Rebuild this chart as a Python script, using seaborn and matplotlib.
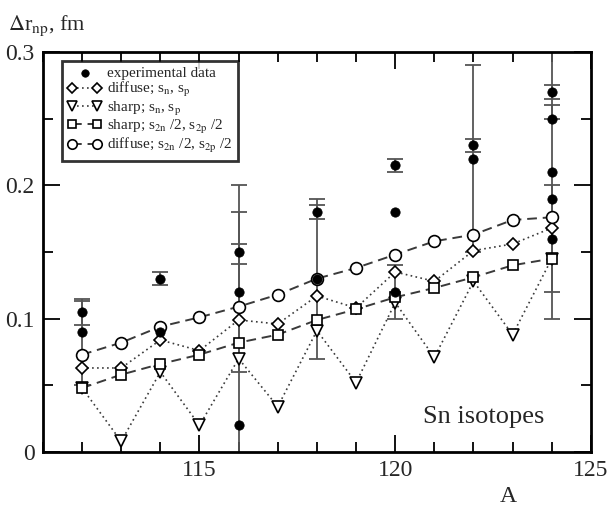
import numpy as np
import pandas as pd
import matplotlib
matplotlib.use('Agg')
import matplotlib.pyplot as plt
import seaborn as sns
from matplotlib.ticker import MultipleLocator

# mass numbers of the Sn isotopes
A = [112, 113, 114, 115, 116, 117, 118, 119, 120, 121, 122, 123, 124]

# model curves
diffuse_snsp = [0.063, 0.063, 0.084, 0.076, 0.099, 0.096, 0.117, 0.108, 0.135, 0.128, 0.151, 0.156, 0.168]
sharp_snsp = [0.048, 0.008, 0.060, 0.020, 0.070, 0.034, 0.091, 0.052, 0.112, 0.071, 0.128, 0.088, 0.145]
sharp_s2n = [0.048, 0.058, 0.066, 0.073, 0.082, 0.088, 0.099, 0.107, 0.116, 0.123, 0.131, 0.140, 0.145]
diffuse_s2n = [0.073, 0.082, 0.094, 0.101, 0.109, 0.118, 0.130, 0.138, 0.148, 0.158, 0.163, 0.174, 0.176]

# experimental data (value, lower error, upper error)
exp_A = [112, 112, 114, 114, 116, 116, 116, 118, 118, 120, 120, 120, 122, 122, 124, 124, 124, 124, 124]
exp_val = [0.105, 0.090, 0.130, 0.090, 0.150, 0.120, 0.020, 0.180, 0.130, 0.215, 0.180, 0.120,
           0.230, 0.220, 0.270, 0.250, 0.210, 0.190, 0.160]
exp_lo = [0.010, 0.040, 0.005, 0.0, 0.009, 0.060, 0.180, 0.005, 0.060, 0.005, 0.0, 0.020,
          0.005, 0.070, 0.005, 0.0, 0.110, 0.0, 0.040]
exp_hi = [0.010, 0.023, 0.005, 0.0, 0.006, 0.060, 0.180, 0.005, 0.060, 0.005, 0.0, 0.020,
          0.005, 0.070, 0.005, 0.010, 0.110, 0.0, 0.040]

sns.set_theme(style='ticks')
plt.rcParams['font.family'] = ['Liberation Serif', 'DejaVu Serif']
plt.rcParams['mathtext.fontset'] = 'stix'

fig = plt.figure(figsize=(6.13, 5.09), dpi=100)
ax = fig.add_axes([0.070, 0.112, 0.894, 0.786])

df_exp = pd.DataFrame({'A': exp_A, 'val': exp_val, 'lo': exp_lo, 'hi': exp_hi})
has_err = (df_exp['lo'] > 0) | (df_exp['hi'] > 0)
e = df_exp[has_err]
ax.errorbar(e['A'], e['val'], yerr=[e['lo'], e['hi']], fmt='none', ecolor='#555555',
            elinewidth=1.3, capsize=6, capthick=1.3, zorder=1)

line_col = '#3a3a3a'
mk = dict(markerfacecolor='white', markeredgecolor='black', markeredgewidth=1.2)
sns.lineplot(x=A, y=diffuse_snsp, ax=ax, color=line_col, linestyle=(0, (1, 2)), lw=1.2,
             marker='D', markersize=6.5, label='diffuse; s$_{\\rm n}$, s$_{\\rm p}$', zorder=3, **mk)
sns.lineplot(x=A, y=sharp_snsp, ax=ax, color=line_col, linestyle=(0, (1, 2)), lw=1.2,
             marker='v', markersize=8.5, label='sharp; s$_{\\rm n}$, s$_{\\rm p}$', zorder=3, **mk)
sns.lineplot(x=A, y=sharp_s2n, ax=ax, color=line_col, linestyle=(0, (5, 3)), lw=1.4,
             marker='s', markersize=7, label='sharp; s$_{\\rm 2n}$ /2, s$_{\\rm 2p}$ /2', zorder=3, **mk)
sns.lineplot(x=A, y=diffuse_s2n, ax=ax, color=line_col, linestyle=(0, (5, 3)), lw=1.4,
             marker='o', markersize=8.5, label='diffuse; s$_{\\rm 2n}$ /2, s$_{\\rm 2p}$ /2', zorder=3, **mk)
sns.scatterplot(data=df_exp, x='A', y='val', ax=ax, color='black', s=45, edgecolor='black',
                label='experimental data', zorder=4)

ax.set_xlim(111, 125)
ax.set_ylim(0, 0.3)
ax.xaxis.set_major_locator(MultipleLocator(5))
ax.xaxis.set_minor_locator(MultipleLocator(1))
ax.yaxis.set_major_locator(MultipleLocator(0.1))
ax.yaxis.set_minor_locator(MultipleLocator(0.05))
ax.set_yticks([0, 0.1, 0.2, 0.3], ['0', '0.1', '0.2', '0.3'])
ax.tick_params(which='both', direction='in', top=True, right=True, labelsize=17,
               color='black', width=1.3, pad=6)
ax.tick_params(which='major', length=12)
ax.tick_params(which='minor', length=7)
for s in ax.spines.values():
    s.set_linewidth(2)
    s.set_color('black')
ax.set_xlabel('')
ax.set_ylabel('')

handles, labels = ax.get_legend_handles_labels()
order = [4, 0, 1, 2, 3]
leg = ax.legend([handles[i] for i in order], [labels[i] for i in order], loc='upper left',
                bbox_to_anchor=(0.03, 0.985), fontsize=11, numpoints=2, scatterpoints=1,
                markerscale=0.8, handlelength=2.2, handletextpad=0.4, labelspacing=0.02,
                borderpad=0.35, borderaxespad=0.2, frameon=True, fancybox=False,
                edgecolor='black')
leg.get_frame().set_linewidth(2)

ax.text(0.915, 0.06, 'Sn isotopes', transform=ax.transAxes, ha='right', va='bottom', fontsize=19)
fig.text(8 / 613, 1 - 30 / 509, '$\\Delta$r$_{\\rm np}$, fm', fontsize=16, ha='left', va='baseline')
fig.text(508 / 613, 1 - 502 / 509, 'A', fontsize=17, ha='center', va='baseline')

fig.savefig('out.png', dpi=100)
